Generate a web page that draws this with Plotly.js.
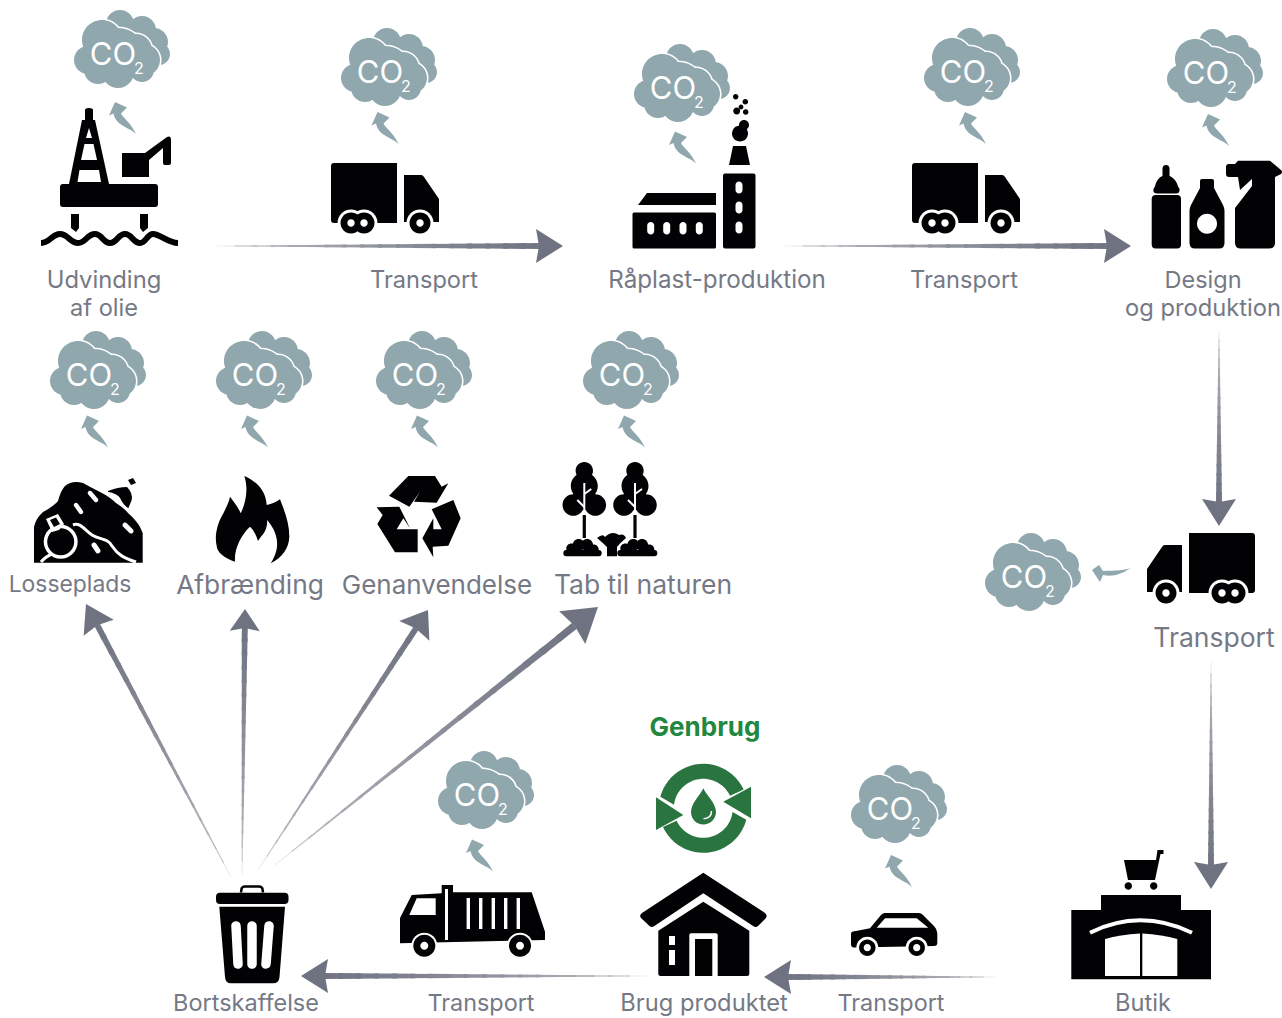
<!DOCTYPE html>
<html><head><meta charset="utf-8">
<script src="https://cdn.plot.ly/plotly-3.0.1.min.js"></script>
<style>html,body{margin:0;padding:0;background:#fff}#c{width:1282px;height:1018px}</style>
</head><body><div id="c"></div>
<script>
// ---- content ----
const stageLabels = ["Udvinding","af olie","Transport","Råplast-produktion","Transport","Design","og produktion",
  "Losseplads","Afbrænding","Genanvendelse","Tab til naturen","Transport","Butik","Transport","Brug produktet","Transport","Bortskaffelse"];
const highlightLabel = ["Genbrug"];
const cloudLabel = "CO";
const cloudSub = "2";

// ---- placement (pixel canvas) ----
const labelPos = [[104,282,23.8],[104,310,23.6],[424,282,23.6],[717,282,24.2],[964,282,23.6],[1203,282,23.5],[1203,310,23.7],
  [70,586,22.9],[250,587,26.3],[437,587,26],[643,587,26.5],[1214,640,26.5],[1143,1005,23.6],[891,1005,23.4],[704,1005,23.7],[481,1005,23.4],[246,1005,23.5]];
const cloudPos = [[74,10],[341,28],[634,44],[924,28],[1167,29],[50,331],[216,331],[376,331],[583,331],[985,533],[438,751],[851,765]];
const puffShift = [[0,0],[-4.5,-8],[0,-4.5],[0,-8],[0,-7],[-4,-7.5],[-10,-7.5],[0,-7.5],[0,-7.5],[0,0],[-7,-3.5],[-1,-2]];
const flowArrows = [[217,246,563,246,27,17,6],[785,246,1131,246,27,17,6],[1219,330,1219,526,27,17,6],[1211,662,1211,889,27,17,6],[995,977,764,977,27,17,6],[648,976,301,976,27,17,6],
  [231,877,86,604,27,17,6],[242,875,245,609,22,15,6],[258,870,428,610,25,18,6],[275,865,598,607,33,21,7.5]];

// ---- styles ----
const BLACK="#020204", GREY="#757985", CLOUD="#8fa7ad", GREEN="#2a743f", WHITE="#ffffff";
const shapes=[];
const fill=(d,c)=>shapes.push({type:'path',path:d,fillcolor:c,fillrule:'nonzero',line:{width:0},layer:'below',xref:'x',yref:'y'});
const stroke=(d,c,w)=>shapes.push({type:'path',path:d,fillcolor:'rgba(0,0,0,0)',line:{color:c,width:w},layer:'below',xref:'x',yref:'y'});
const K=0.5523;
const f1=n=>(+n).toFixed(2);
function circ(x,y,r){const k=K*r;return `M${f1(x+r)},${f1(y)} C${f1(x+r)},${f1(y+k)} ${f1(x+k)},${f1(y+r)} ${f1(x)},${f1(y+r)} C${f1(x-k)},${f1(y+r)} ${f1(x-r)},${f1(y+k)} ${f1(x-r)},${f1(y)} C${f1(x-r)},${f1(y-k)} ${f1(x-k)},${f1(y-r)} ${f1(x)},${f1(y-r)} C${f1(x+k)},${f1(y-r)} ${f1(x+r)},${f1(y-k)} ${f1(x+r)},${f1(y)} Z`;}
function rrect(x0,y0,x1,y1,r){return `M${x0+r},${y0} L${x1-r},${y0} Q${x1},${y0} ${x1},${y0+r} L${x1},${y1-r} Q${x1},${y1} ${x1-r},${y1} L${x0+r},${y1} Q${x0},${y1} ${x0},${y1-r} L${x0},${y0+r} Q${x0},${y0} ${x0+r},${y0} Z`;}
function pill(ax,ay,bx,by,w){const L=Math.hypot(bx-ax,by-ay),ux=(bx-ax)/L,uy=(by-ay)/L,r=w/2,nx=-uy*r,ny=ux*r,e=r*4/3;
  return `M${f1(ax+nx)},${f1(ay+ny)} L${f1(bx+nx)},${f1(by+ny)} C${f1(bx+nx+ux*e)},${f1(by+ny+uy*e)} ${f1(bx-nx+ux*e)},${f1(by-ny+uy*e)} ${f1(bx-nx)},${f1(by-ny)} L${f1(ax-nx)},${f1(ay-ny)} C${f1(ax-nx-ux*e)},${f1(ay-ny-uy*e)} ${f1(ax+nx-ux*e)},${f1(ay+ny-uy*e)} ${f1(ax+nx)},${f1(ay+ny)} Z`;}
function ringArc(cx,cy,r0,r1,a0o,a1o,a0i,a1i){let p=[];const n=24;const R=Math.PI/180;
  for(let i=0;i<=n;i++){const a=(a0o+(a1o-a0o)*i/n)*R;p.push(`${f1(cx+r1*Math.cos(a))},${f1(cy+r1*Math.sin(a))}`);}
  for(let i=n;i>=0;i--){const a=(a0i+(a1i-a0i)*i/n)*R;p.push(`${f1(cx+r0*Math.cos(a))},${f1(cy+r0*Math.sin(a))}`);}
  return 'M'+p[0]+' L'+p.slice(1).join(' L')+' Z';}
const xf=(d,fn)=>d.replace(/(-?[\d.]+),(-?[\d.]+)/g,(m,x,y)=>{const q=fn(+x,+y);return f1(q[0])+','+f1(q[1]);});

// clouds
const backLobes=[[46,14,14],[68,20,14],[80,32,14],[85,44,11],[62,34,20]];
const frontLobes=[[14,50,14],[28,30,20],[50,35,14],[70,50,16],[44,62,16],[24,60,14],[68,60,12],[44,45,27],[62,40,16]];
const smallArrow="M41,92 L53,97.5 L47,103.5 C49,108 57,113 62,124 C55,117 42,116 39.5,103.5 L35,105.5 Z";
cloudPos.forEach(([ox,oy],i)=>{
  fill(backLobes.map(l=>circ(ox+l[0],oy+l[1],l[2])).join(' '),CLOUD);
  fill(frontLobes.map(l=>circ(ox+l[0],oy+l[1],l[2]+1.6)).join(' '),WHITE);
  fill(frontLobes.map(l=>circ(ox+l[0],oy+l[1],l[2])).join(' '),CLOUD);
  if(i!==9) fill(xf(smallArrow,(x,y)=>[x+ox+puffShift[i][0],y+oy+puffShift[i][1]]),CLOUD);
});
fill("M1092,570 L1099,565 L1103,571 C1110,570 1118,572 1131,568 C1120,575 1112,577 1103,575 L1100,582 Z",CLOUD);

// flow arrows
function mix(t){const a=[226,227,230],b=[111,114,128];return `rgb(${a.map((v,i)=>Math.round(v+(b[i]-v)*t)).join(',')})`;}
flowArrows.forEach(([x0,y0,x1,y1,headL,headW,w])=>{
  const L=Math.hypot(x1-x0,y1-y0),ux=(x1-x0)/L,uy=(y1-y0)/L,nx=-uy,ny=ux,N=18;
  const S=L-(headL-3);
  for(let i=0;i<N;i++){
    const t0=i/N,t1=(i+1.25)/N>1?1:(i+1.25)/N;
    const w0=(0.6+(w-0.6)*t0)/2,w1=(0.6+(w-0.6)*t1)/2;
    const ax=x0+ux*S*t0,ay=y0+uy*S*t0,bx=x0+ux*S*t1,by=y0+uy*S*t1;
    fill(`M${f1(ax+nx*w0)},${f1(ay+ny*w0)} L${f1(bx+nx*w1)},${f1(by+ny*w1)} L${f1(bx-nx*w1)},${f1(by-ny*w1)} L${f1(ax-nx*w0)},${f1(ay-ny*w0)} Z`,mix(Math.pow(t0,0.45)));
  }
  const bx=x1-ux*headL,by=y1-uy*headL;
  fill(`M${x1},${y1} L${f1(bx+nx*headW)},${f1(by+ny*headW)} L${f1(bx+ux*3)},${f1(by+uy*3)} L${f1(bx-nx*headW)},${f1(by-ny*headW)} Z`,mix(1));
});

// oil rig
fill(rrect(60,184,158,207,3),BLACK);
fill("M71,214 L79,214 L79,228 L76,232 L71,228 Z",BLACK);
fill("M140,214 L148,214 L148,228 L143,232 L140,228 Z",BLACK);
stroke("M41,243 C50,243 52,234 60,234 C68,234 70,243 78,243 C86,243 87,234 95,234 C102,234 103,243 110,243 C117,243 118,234 125,234 C132,234 133,243 140,243 C146,243 147,234 153,234 C160,234 168,243 178,243",BLACK,6);
fill("M85,110 Q85,108 89,108 Q93,108 93,110 L93,120 L95,120 L109,184 L69,184 L82,120 L85,120 Z",BLACK);
fill("M89,128 L92,138 L86,138 Z",WHITE);
fill("M84.5,144 L93.5,144 L97,160 L81,160 Z",WHITE);
fill("M79.5,170 L99,170 L101,182 L77.5,182 Z",WHITE);
fill("M122,153 L145,153 L167,137 Q171,135 171,140 L171,163 Q171,165 169,165 L165,165 Q163,165 163,163 L163,148 L149,160 L149,177 L122,177 Z",BLACK);

// trucks
function truck(m){
  fill(xf("M1189,533 L1252,533 Q1255,533 1255,536 L1255,590 Q1255,593 1252,593 L1189,593 Z",m),BLACK);
  fill(xf("M1147,592 L1147,569 L1162,547 Q1163,545 1165,545 L1182,545 L1182,592 Z",m),BLACK);
  [[1166,593],[1222,593],[1235,593]].forEach(p=>{const q=m(p[0],p[1]);fill(circ(q[0],q[1],13.5),WHITE);});
  [[1166,593],[1222,593],[1235,593]].forEach(p=>{const q=m(p[0],p[1]);fill(circ(q[0],q[1],10.5),BLACK);});
  [[1166,593],[1222,593],[1235,593]].forEach(p=>{const q=m(p[0],p[1]);fill(circ(q[0],q[1],3.7),WHITE);});
}
truck((x,y)=>[331+1255-x,y-370]);
truck((x,y)=>[912+1255-x,y-370]);
truck((x,y)=>[x,y]);

// factory
fill("M638,205 L647,193 L716,193 L716,205 Z",BLACK);
fill(rrect(632.5,212.5,716,248.5,1.5),BLACK);
[650.7,666.7,683,699.3].forEach(x=>fill(pill(x,225.5,x,231,7),WHITE));
fill(rrect(723,173.5,755.5,248.5,2),BLACK);
[[185,190],[205,210],[225,230]].forEach(y=>fill(pill(739,y[0],739,y[1],7),WHITE));
fill("M733,146 L746,146 L750,165 L729,165 Z",BLACK);
[[740,133.5,8],[744,125,5],[735.7,96.7,2.7],[745.3,101.7,2.8],[736.7,111,3.5],[741,107,2.4],[745.7,112,2.8]].forEach(c=>fill(circ(c[0],c[1],c[2]),BLACK));

// bottles
fill(rrect(1151.7,195,1181,248.5,4),BLACK);
fill("M1162.5,168 Q1163,165 1166,165 Q1169,165 1169.5,168 L1169.5,176 C1174,178 1177,182 1178,186.5 Q1180,188 1179.5,191 Q1179,193.5 1176,193.5 L1157,193.5 Q1153.5,193.5 1153.3,190.5 Q1153.5,188 1155,186.5 C1156,182 1158,178 1162.5,176 Z",BLACK);
fill("M1202,179 L1212,179 Q1214,179 1214,181 L1214,188 L1223,205 Q1224.5,208 1224.5,211 L1224.5,243 Q1224.5,248.5 1219,248.5 L1195,248.5 Q1189.5,248.5 1189.5,243 L1189.5,211 Q1189.5,208 1191,205 L1200,188 L1200,181 Q1200,179 1202,179 Z",BLACK);
fill(circ(1207,223.7,10),WHITE);
fill("M1226,167 Q1226,164 1229,164 L1235,164 L1238,160.7 L1270,160.7 L1281,170 Q1283,172 1281,174 L1275,177 L1275,243 Q1275,248.5 1269,248.5 L1241,248.5 Q1235,248.5 1235,243 L1235,208 L1252,186 L1252,179 L1240,190 L1238,177 L1229,177 Q1226,177 1226,174 Z",BLACK);

// landfill
fill("M34,562.7 L34,527 Q36,518 43,512 Q54,506 58,501 Q61,490 65,486 Q72,480 83,483 Q90,487 100,492 Q110,497 116,503 Q124,508 128,513 Q136,520 140,527 L142.7,533 L142.7,562.7 Z",BLACK);
fill("M108,491 Q118,487 127,487 Q133,493 131.7,500 L128,509 Q122,503 120,498 Q116,493 108,494 Z",BLACK);
fill("M128,480 L133,478 L136,483 L131,485 Z",BLACK);
stroke("M107,493 Q117,494 120,501 Q123,507 129,510",WHITE,2.5);
stroke("M73,525 C80,522 85,530 92,535 C100,540 108,538 112,546 C118,555 124,558 136,562",WHITE,3);
stroke("M41,562 Q45,557 52,554",WHITE,3);
fill(circ(60.7,541.7,17),WHITE);
fill(circ(60.7,541.7,13.5),BLACK);
fill("M46,519 L58,514 L64,524 L59,530 L52,532 Z",WHITE);
fill("M50,520 L56,517.5 L60,524 L54,527 Z",BLACK);
[[90,493,96,500,4.5],[76,505,81,512,4.5],[125,525,131,531,5],[94,545,98,551,5]].forEach(p=>fill(pill(p[0],p[1],p[2],p[3],p[4]),WHITE));

// flame
fill("M244.3,476 C258,482 266,492 266.7,505 C272,504 276,502 280,499.3 C285,512 289.5,524 289.3,537 C289,548 282,558 270.7,563.3 C277,553 278,546 276.5,538 C275,530 270,523 267,520 C268,527 264,534 260.7,537 L258,541 C256,534 252,528 250,526.7 C242,534 234,548 235,561.7 C224,558 217,552 216.7,546 C214,535 218,522 223,514 C226,508 229,502 230,496.7 C234,502 238,507 240.7,513.3 C245,505 249,490 244.3,476 Z",BLACK);

// recycle symbol
const rz=(x,y)=>[x/3+340,y/3+450];
fill(xf("M147,137 L205,78 L285,78 L305,110 L325,100 L290,158 L222,155 L240,125 L208,170 Z",rz),BLACK);
fill(xf("M110,172 L178,170 L210,235 L190,205 L170,238 L233,238 L233,307 L165,307 L112,222 L128,195 Z",rz),BLACK);
fill(xf("M275,178 L340,150 L362,205 L325,287 L278,290 L280,322 L247,265 L280,205 L280,238 L305,238 Z",rz),BLACK);

// trees
[584.3,635].forEach(x=>{
  fill([[x,470.7,8.7],[x,486,13.5],[x-11,505,10.8],[x+11,505,10.8],[x,498,12]].map(c=>circ(c[0],c[1],c[2])).join(' '),BLACK);
  stroke(`M${x},483 L${x},515`,WHITE,2);
  stroke(`M${x},494 L${x+7},489`,WHITE,2);
  stroke(`M${x},507 L${x-7},500`,WHITE,2);
  fill(`M${x-1.6},515 L${x+1.6},515 L${x+1.6},538 L${x-1.6},538 Z`,BLACK);
});
[[563.3,601.7],[617.3,657.3]].forEach(([a,b])=>{const w=b-a;
  fill([circ(a+8,548.5,5),circ(a+w*.4,545,6),circ(a+w*.62,545,6),circ(b-8,549.5,5),rrect(a,550,b,556.3,3)].join(' '),BLACK);
});
fill("M597,538 Q603,533 605,537 Q612,530 619,535 Q624,533 626,538 Q620,543 617,547 L617,556.3 L607,556.3 L607,547 Q603,543 597,538 Z",BLACK);

// green loop
fill(ringArc(703.3,808.3,29.5,44.5,195,335,187,335),GREEN);
fill(ringArc(703.3,808.3,29.5,44.5,15,155,7,155),GREEN);
fill("M751,786.7 L751,818.3 L723.3,801.7 Z",GREEN);
fill("M656,797.3 L656,830 L683.3,815 Z",GREEN);
fill("M703.3,788.3 C706,795 716,803 716,812 C716,819 710,824.5 703.3,824.5 C696.6,824.5 691,819 691,812 C691,803 700.6,795 703.3,788.3 Z",GREEN);
stroke("M711.5,811 C711.5,816 708,818.5 703.5,818.8",WHITE,1.5);

// house
fill("M703.3,872.7 L765,913 Q768,916 765.5,918.5 L758,926 Q756,928 753.5,926.3 L703.3,893.3 L654,926.3 Q651.5,928 649.5,926 L641.5,918.5 Q638.5,916 642,913 Z",BLACK);
fill("M658.3,930.7 L703.3,901.7 L749.3,930.7 L749.3,974 Q749.3,976 747,976 L660.5,976 Q658.3,976 658.3,974 Z",BLACK);
fill("M689.3,935 Q689.3,933.3 691,933.3 L716,933.3 Q717.7,933.3 717.7,935 L717.7,976 L689.3,976 Z",WHITE);
fill("M695,939 L712.3,939 L712.3,976 L695,976 Z",BLACK);
fill("M669,936 L675,936 L675,945 L669,945 Z",WHITE);
fill("M669,950 L675,950 L675,965 L669,965 Z",WHITE);

// car
fill("M851,933 Q852,931 856,931 L870,928.3 L881,915 Q883,913 885,913 L919,913 Q921,913 923,915 L934,926 Q937,929 937.3,933 L937.3,943 Q937.3,946 934,946 L854,947.5 Q851,947.5 851,944 Z",BLACK);
fill("M876.7,927.7 L885,918.3 L916.7,918.3 L928.3,927.7 Z",WHITE);
[867.3,916.7].forEach(x=>{fill(circ(x,947.7,11),WHITE);fill(circ(x,947.7,8.2),BLACK);fill(circ(x,947.7,3.6),WHITE);});

// bin
fill(rrect(216,892.7,288.5,904,4),BLACK);
stroke("M241,892.5 L241.5,889 Q242,886.5 245,886.5 L259,886.5 Q262,886.5 262.5,889 L263,892.5",BLACK,2.5);
fill("M219.3,906.7 L285,906.7 L279.5,977 Q279,983.3 273,983.3 L231,983.3 Q225.5,983.3 225,977 Z",BLACK);
[[236,926,238,964],[252,926,252,964],[269,926,266,964]].forEach(p=>fill(pill(p[0],p[1],p[2],p[3],9.5),WHITE));

// garbage truck
fill("M400,918 L411.7,895 L441.7,893.3 L441.7,885 L453,885 L453,892.3 L531.7,892.3 L545,931.7 L545,940 L400,943.3 Z",BLACK);
fill("M416.7,898.3 L435.7,898.3 L435.7,915 L409.3,915 Z",WHITE);
fill("M445,889 L448,889 L448,940 L445,940 Z",WHITE);
[468.3,480.7,493.3,505.7,518.3].forEach(x=>fill(`M${x-1.7},898 L${x+1.7},898 L${x+1.7},929 L${x-1.7},929 Z`,WHITE));
[424.3,520].forEach(x=>{fill(circ(x,945.7,13),WHITE);fill(circ(x,945.7,11),BLACK);fill(circ(x,945.7,4),WHITE);});

// shop
fill("M1071.3,910 L1101,910 L1101,895 L1181,895 L1181,910 L1211,910 L1211,979.3 L1071.3,979.3 Z",BLACK);
stroke("M1090,932.7 Q1140,908 1192,932.7",WHITE,4);
fill("M1105,939 Q1120,934.5 1140,933.5 L1140,976 L1105,976 Z",WHITE);
fill("M1142.3,933.5 Q1162,934.5 1177.3,939 L1177.3,976 L1142.3,976 Z",WHITE);
fill("M1124,860 L1156,860 L1157.5,850 L1163.5,850 L1163.5,854 L1160.5,854 L1155,880 L1128,880 Z",BLACK);
fill(circ(1128.3,886,3.7),BLACK);fill(circ(1153.7,886,3.7),BLACK);

// ---- traces ----
const FONT="Inter, 'Open Sans', sans-serif";
const traces=[
 {type:'scatter',mode:'text',x:labelPos.map(p=>p[0]),y:labelPos.map(p=>p[1]),text:stageLabels,
  textposition:'middle center',textfont:{family:FONT,size:labelPos.map(p=>p[2]),color:GREY,weight:400},hoverinfo:'skip',cliponaxis:false},
 {type:'scatter',mode:'text',x:[705],y:[729],text:highlightLabel,textposition:'middle center',
  textfont:{family:FONT,size:26,color:'#22873f',weight:700},hoverinfo:'skip'},
 {type:'scatter',mode:'text',x:cloudPos.map(p=>p[0]+39),y:cloudPos.map(p=>p[1]+47),text:cloudPos.map(()=>cloudLabel),
  textposition:'middle center',textfont:{family:FONT,size:31,color:WHITE,weight:400},hoverinfo:'skip'},
 {type:'scatter',mode:'text',x:cloudPos.map(p=>p[0]+65),y:cloudPos.map(p=>p[1]+60),text:cloudPos.map(()=>cloudSub),
  textposition:'middle center',textfont:{family:FONT,size:16,color:WHITE,weight:400},hoverinfo:'skip'}
];
const layout={width:1282,height:1018,margin:{l:0,r:0,t:0,b:0},showlegend:false,hovermode:false,
  paper_bgcolor:'#fff',plot_bgcolor:'#fff',
  xaxis:{range:[0,1282],visible:false,fixedrange:true},
  yaxis:{range:[1018,0],visible:false,fixedrange:true},
  shapes};
Plotly.newPlot('c',traces,layout,{displayModeBar:false,staticPlot:true});
</script></body></html>
